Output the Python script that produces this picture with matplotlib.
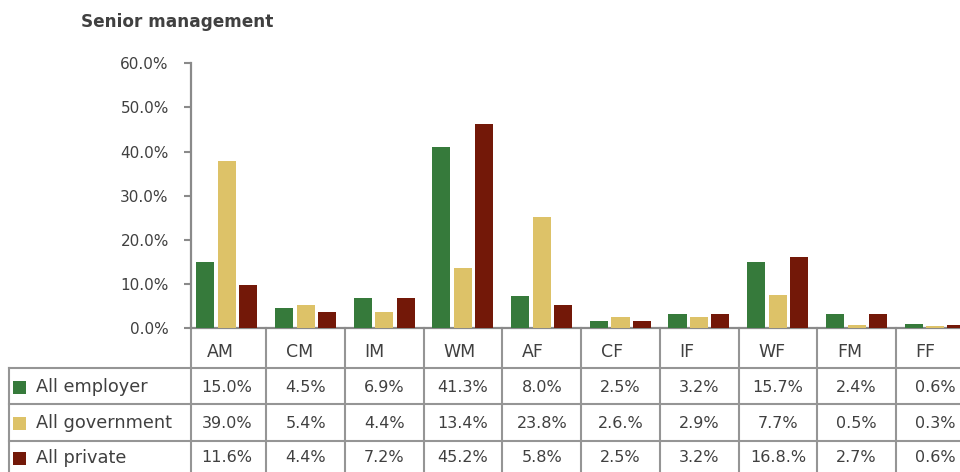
import matplotlib
matplotlib.use("Agg")
import matplotlib.pyplot as plt
from matplotlib.patches import Rectangle
import matplotlib.transforms as mtransforms
import numpy as np

# ---------------- data ----------------
categories = ["AM", "CM", "IM", "WM", "AF", "CF", "IF", "WF", "FM", "FF"]
series_names = ["All employer", "All government", "All private"]
# bar heights as drawn in the chart (%)
employer = [15.0, 4.6, 6.9, 41.0, 7.3, 1.7, 3.2, 15.0, 3.2, 1.0]
government = [37.9, 5.3, 3.7, 13.7, 25.2, 2.6, 2.6, 7.5, 0.8, 0.5]
private = [9.8, 3.7, 6.9, 46.2, 5.3, 1.7, 3.2, 16.1, 3.2, 0.8]
# values printed in the data table
employer_labels = ["15.0%", "4.5%", "6.9%", "41.3%", "8.0%", "2.5%", "3.2%", "15.7%", "2.4%", "0.6%"]
government_labels = ["39.0%", "5.4%", "4.4%", "13.4%", "23.8%", "2.6.%", "2.9%", "7.7%", "0.5%", "0.3%"]
private_labels = ["11.6%", "4.4%", "7.2%", "45.2%", "5.8%", "2.5%", "3.2%", "16.8.%", "2.7%", "0.6%"]
yticks = [0, 10, 20, 30, 40, 50, 60]
title = "Senior management"

colors = ["#367A3B", "#DDC268", "#731808"]
text_color = "#404040"
axis_color = "#8a8a8a"
grid_color = "#959595"

W, H = 960, 472
fig = plt.figure(figsize=(W / 100, H / 100), dpi=100)

# axes geometry in pixels
ax_left_px = 191
y0_px = 328.3
ax_h_px = 265.0
unit_px = 78.7
xmin = -0.457
xmax = xmin + 10.0
ax = fig.add_axes([ax_left_px / W, (H - y0_px) / H, 10 * unit_px / W, ax_h_px / H])
ax.set_xlim(xmin, xmax)
ax.set_ylim(0, 60)

x = np.arange(len(categories))
offsets = [-0.275, 0.0, 0.27]
bw = 0.23
for vals, off, c in zip([employer, government, private], offsets, colors):
    ax.bar(x + off, vals, width=bw, color=c, zorder=3)

for s in ["top", "right"]:
    ax.spines[s].set_visible(False)
ax.spines["left"].set_color(axis_color)
ax.spines["left"].set_linewidth(1.6)
ax.spines["bottom"].set_color(axis_color)
ax.spines["bottom"].set_linewidth(1.6)
ax.set_yticks(yticks)
ax.set_yticklabels([f"{v:.1f}%" for v in yticks])
ax.tick_params(axis="y", length=5, width=1.5, color=axis_color, pad=11,
               labelsize=11, labelcolor=text_color)
ax.set_xticks([])

# ---------------- data table ----------------
def ya(Y):
    return (y0_px - Y) / ax_h_px

blend_fx = mtransforms.blended_transform_factory(fig.transFigure, ax.transAxes)
blend_dx = ax.get_xaxis_transform()

lw = 1.5
# vertical boundaries
bounds = [xmin] + [i - 0.5 for i in range(1, len(categories))] + [len(categories) - 0.5]
for b in bounds:
    ax.plot([b, b], [0, ya(H + 10)], transform=blend_dx, color=grid_color,
            lw=lw, clip_on=False, zorder=1)
# left edge of label column
ax.plot([9 / W, 9 / W], [ya(368), ya(H + 10)], transform=blend_fx, color=grid_color,
        lw=lw, clip_on=False)
# horizontal row lines
for Y in [368, 404, 441]:
    ax.plot([9 / W, 1.0], [ya(Y), ya(Y)], transform=blend_fx, color=grid_color,
            lw=lw, clip_on=False)

# header labels
for i, cat in enumerate(categories):
    ax.text(i - 0.25, ya(352), cat, transform=blend_dx, ha="left", va="center",
            fontsize=12.5, color=text_color, clip_on=False)

row_y = [387, 423, 458]
for name, labels, c, Y in zip(series_names,
                              [employer_labels, government_labels, private_labels],
                              colors, row_y):
    sq_h = 13 / ax_h_px
    ax.add_patch(Rectangle((13 / W, ya(Y) - sq_h / 2), 13 / W, sq_h, transform=blend_fx,
                           facecolor=c, edgecolor="none", clip_on=False))
    ax.text(36 / W, ya(Y), name, transform=blend_fx, ha="left", va="center",
            fontsize=12.8, color=text_color, clip_on=False)
    for i, lab in enumerate(labels):
        ax.text(i, ya(Y), lab, transform=blend_dx, ha="center", va="center",
                fontsize=11.5, color=text_color, clip_on=False)

fig.text(81 / W, 1 - 22 / H, title, ha="left", va="center", fontsize=12.2,
         fontweight="bold", color=text_color)

fig.savefig("out.png", dpi=100)
